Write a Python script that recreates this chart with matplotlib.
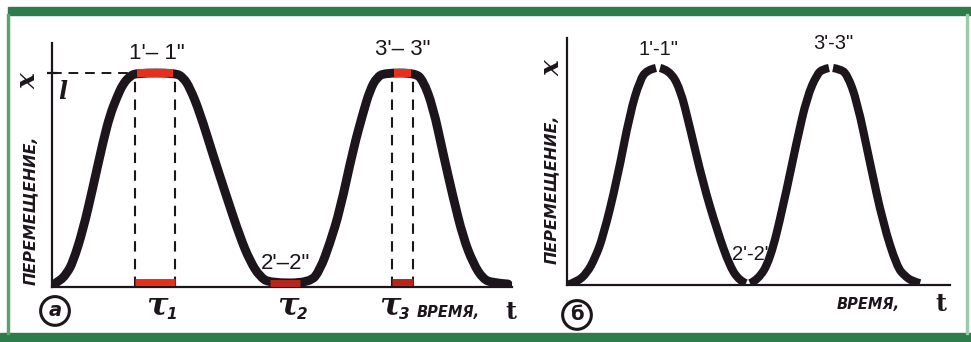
import numpy as np
import matplotlib
matplotlib.use("Agg")
import matplotlib.pyplot as plt
from matplotlib.patches import Rectangle, PathPatch
from matplotlib.path import Path

# ---------------- data ----------------
# panel (а): time t (arbitrary units), displacement x (l = 1)
a_t = [0, 0.8, 1.5, 2.1, 3.1, 4.1, 5.1, 5.8, 6.5, 7.1, 7.8, 8.5, 12.3, 13.1, 13.8,
       14.8, 16.1, 17.5, 18.8, 19.8, 20.8, 21.8, 25.8, 26.8, 27.8, 28.8, 30.1, 31.1,
       31.8, 32.5, 33.3, 36.3, 37.1, 38.1, 39.1, 40.1, 41.1, 42.1, 43.1, 44.1, 45.6]
a_x = [0.009, 0.028, 0.065, 0.117, 0.266, 0.467, 0.678, 0.804, 0.888, 0.949, 0.986,
       1.0, 1.0, 0.981, 0.93, 0.813, 0.617, 0.416, 0.234, 0.121, 0.047, 0.019, 0.019,
       0.079, 0.206, 0.36, 0.64, 0.813, 0.921, 0.981, 1.0, 1.0, 0.967, 0.841, 0.626,
       0.421, 0.234, 0.112, 0.037, 0.019, 0.014]
# dwell intervals τ1, τ2, τ3 (start, end) and their level
tau_names = ["1", "2", "3"]
tau_start = [8.3, 21.8, 34.0]
tau_end = [12.3, 24.8, 36.1]
tau_level = [1.0, 0.019, 1.0]
a_peak_labels = ["1'– 1\"", "2'–2\"", "3'– 3\""]

# panel (б): segments separated by NaN (breaks at turning points)
b_t = [0, 1.0, 2.0, 2.8, 3.6, 5.0, 6.3, 7.3, 8.0, 8.9, np.nan,
       9.3, 10.2, 11.3, 12.3, 13.6, 15.0, 16.3, 17.3, 17.9, np.nan,
       18.3, 19.1, 20.3, 21.6, 23.0, 24.0, 25.0, 25.6, 26.2, np.nan,
       26.6, 27.3, 28.0, 29.0, 30.3, 31.6, 33.0, 33.8, 34.5, 35.3]
b_x = [0.0, 0.014, 0.055, 0.124, 0.221, 0.484, 0.793, 0.945, 0.991, 1.0, np.nan,
       1.0, 0.991, 0.908, 0.724, 0.47, 0.253, 0.083, 0.018, 0.008, np.nan,
       0.008, 0.023, 0.115, 0.359, 0.668, 0.866, 0.972, 0.995, 1.0, np.nan,
       1.0, 0.995, 0.972, 0.848, 0.562, 0.286, 0.083, 0.041, 0.018, 0.008]
b_peak_labels = ["1'-1\"", "2'-2\"", "3'-3\""]

# ---------------- styling ----------------
W, H = 971, 342
GREEN = "#2e7b4b"
INK = "#1c161c"
RED = "#e5301e"
DARKRED = "#b8261a"
LABEL_FONT = ["Liberation Sans", "DejaVu Sans"]

fig = plt.figure(figsize=(W / 100, H / 100), dpi=100)
fig.patch.set_facecolor("white")


def fx(px):
    return px / W


def fy(py):
    return 1 - py / H


# green frame
fig.add_artist(Rectangle((fx(8), fy(15)), 1 - fx(8), 8 / H, transform=fig.transFigure,
                         color=GREEN, zorder=0))
fig.add_artist(Rectangle((0, 0), 1, 9 / H, transform=fig.transFigure, color=GREEN, zorder=0))
fig.add_artist(Rectangle((fx(7), fy(334)), 2 / W, 320 / H, transform=fig.transFigure,
                         color="#5aa36e", zorder=0))
fig.add_artist(Rectangle((fx(966), fy(334)), 2 / W, 320 / H, transform=fig.transFigure,
                         color="#9cc9a8", zorder=0))


def style_axes(ax):
    ax.set_facecolor("none")
    for s in ("top", "right"):
        ax.spines[s].set_visible(False)
    for s in ("left", "bottom"):
        ax.spines[s].set_linewidth(1.6)
        ax.spines[s].set_color(INK)
    ax.set_xticks([])
    ax.set_yticks([])


def smooth_curve(ax, ts, xs, lw, capstyle):
    """Draw the knots as a smooth quadratic B-spline path (matplotlib Bezier)."""
    ts = np.asarray(ts, float)
    xs = np.asarray(xs, float)
    breaks = np.where(np.isnan(ts))[0]
    starts = np.r_[0, breaks + 1]
    ends = np.r_[breaks, len(ts)]
    for s, e in zip(starts, ends):
        p = np.column_stack([ts[s:e], xs[s:e]])
        verts = [p[0]]
        codes = [Path.MOVETO]
        for i in range(1, len(p) - 1):
            mid = (p[i] + p[i + 1]) / 2 if i < len(p) - 2 else p[i + 1]
            verts += [p[i], mid]
            codes += [Path.CURVE3, Path.CURVE3]
        patch = PathPatch(Path(verts, codes), fill=False, ec=INK, lw=lw,
                          capstyle=capstyle, joinstyle="round", zorder=3)
        ax.add_patch(patch)


# ---------------- panel а ----------------
axa = fig.add_axes([fx(52), fy(287), (512 - 52) / W, (287 - 43) / H])
style_axes(axa)
axa.set_xlim(0, 46)
axa.set_ylim(0, (287 - 43) / 214)
axa.set_yticks([1.0])
axa.set_yticklabels([])
axa.tick_params(axis="y", direction="inout", length=7, width=1.6, color=INK)

smooth_curve(axa, a_t, a_x, 6.4, "round")

# horizontal dashed line at level l
axa.plot([0, tau_start[0]], [1.0, 1.0], color=INK, lw=1.4, ls=(0, (5, 3.5)), zorder=2)

for i, (s, e, lev) in enumerate(zip(tau_start, tau_end, tau_level)):
    if lev == 1.0:
        axa.plot([s, s], [0, lev], color=INK, lw=1.5, ls=(0, (5, 3.5)), zorder=2)
        axa.plot([e, e], [0, lev], color=INK, lw=1.5, ls=(0, (5, 3.5)), zorder=2)
        axa.plot([s + 0.15, e - 0.2], [lev, lev], color=RED, lw=5.8, solid_capstyle="butt",
                 zorder=4)
        axa.plot([s, e], [0.022, 0.022], color=RED if i == 0 else DARKRED, lw=5.0,
                 solid_capstyle="butt", zorder=4)
    else:
        axa.plot([s, e], [lev, lev], color=DARKRED, lw=5.0, solid_capstyle="butt", zorder=4)

# peak labels
lab_t = [10.5, 23.4, 35.1]
lab_x = [1.093, 0.112, 1.112]
for t, x, s in zip(lab_t, lab_x, a_peak_labels):
    axa.text(t, x, s, ha="center", va="center", fontsize=16, family=LABEL_FONT, color=INK,
             zorder=5)

# tau labels
tau_lab_t = [10.5, 23.6, 33.8]
for t, n in zip(tau_lab_t, tau_names):
    axa.text(t, -0.085, "τ", ha="center", va="center", fontsize=23, fontweight="bold",
             family=["DejaVu Serif"], style="italic", color=INK, clip_on=False)
    axa.text(t + 0.9, -0.13, n, ha="left", va="center", fontsize=11, fontweight="bold",
             style="italic", family=["DejaVu Sans"], color=INK, clip_on=False)

axa.text(0.6, 0.911, "l", ha="left", va="center", fontsize=17, fontweight="bold",
         style="italic", family=["DejaVu Serif"], color=INK)
axa.text(36.5, -0.121, "ВРЕМЯ,", ha="left", va="center", fontsize=10.5, style="italic",
         fontweight="bold", family=["DejaVu Sans"], color=INK, clip_on=False)
axa.text(45.3, -0.118, "t", ha="left", va="center", fontsize=17, fontweight="bold",
         family=["DejaVu Serif"], color=INK, clip_on=False)
axa.text(0.3, -0.112, "а", ha="center", va="center", fontsize=14, fontweight="bold",
         style="italic", family=["DejaVu Sans"], color=INK, clip_on=False,
         bbox=dict(boxstyle="circle,pad=0.25", fc="white", ec=INK, lw=2.2))
axa.text(-2.2, 0.36, "ПЕРЕМЕЩЕНИЕ,", rotation=90, ha="center", va="center",
         fontsize=11.5, style="italic", fontweight="bold", family=["DejaVu Sans"],
         color=INK, clip_on=False)
axa.text(-2.4, 0.96, "x", rotation=90, ha="center", va="center", fontsize=19,
         fontweight="bold", style="italic", family=["DejaVu Serif"], color=INK,
         clip_on=False)

# ---------------- panel б ----------------
axb = fig.add_axes([fx(567), fy(285), (950 - 567) / W, (285 - 38) / H])
style_axes(axb)
axb.set_xlim(0, 38.3)
axb.set_ylim(0, (285 - 38) / 217)
smooth_curve(axb, b_t, b_x, 5.9, "butt")

b_lab_x = [1.083, 0.14, 1.111]
b_lab_t = [9.2, 18.5, 26.6]
for t, x, s in zip(b_lab_t, b_lab_x, b_peak_labels):
    axb.text(t, x, s, ha="center", va="center", fontsize=14.5, family=LABEL_FONT,
             color=INK, zorder=5)

axb.text(27.0, -0.092, "ВРЕМЯ,", ha="left", va="center", fontsize=10.5, style="italic",
         fontweight="bold", family=["DejaVu Sans"], color=INK, clip_on=False)
axb.text(36.8, -0.088, "t", ha="left", va="center", fontsize=17, fontweight="bold",
         family=["DejaVu Serif"], color=INK, clip_on=False)
axb.text(1.0, -0.138, "б", ha="center", va="center", fontsize=14, fontweight="bold",
         family=["DejaVu Sans"], color=INK, clip_on=False,
         bbox=dict(boxstyle="circle,pad=0.25", fc="white", ec=INK, lw=2.2))
axb.text(-1.6, 0.44, "ПЕРЕМЕЩЕНИЕ,", rotation=90, ha="center", va="center",
         fontsize=11.5, style="italic", fontweight="bold", family=["DejaVu Sans"],
         color=INK, clip_on=False)
axb.text(-1.5, 1.0, "x", rotation=90, ha="center", va="center", fontsize=19,
         fontweight="bold", style="italic", family=["DejaVu Serif"], color=INK,
         clip_on=False)

fig.savefig("out.png", dpi=100, facecolor="white")
